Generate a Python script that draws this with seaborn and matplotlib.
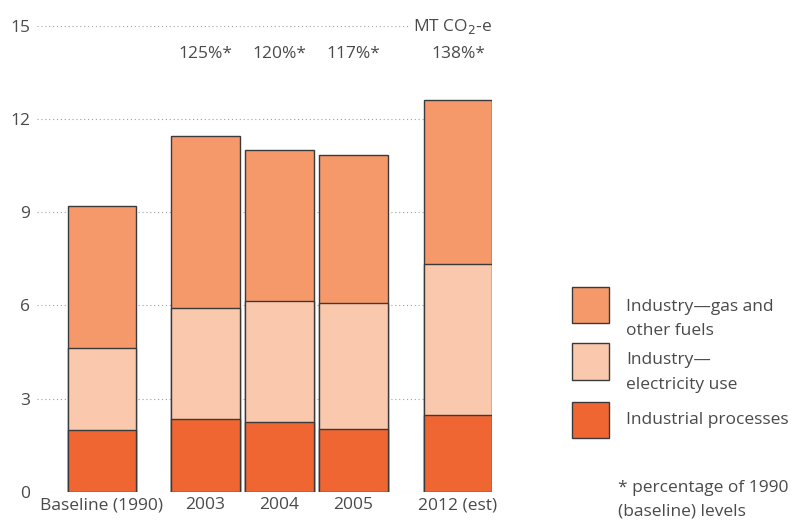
import matplotlib
matplotlib.use("Agg")
import matplotlib.pyplot as plt
from matplotlib.patches import Rectangle
import numpy as np
import pandas as pd
import seaborn as sns

# ---- data ----
categories = ["Baseline (1990)", "2003", "2004", "2005", "2012 (est)"]
industrial_processes = [2.00, 2.35, 2.25, 2.01, 2.46]
electricity_use = [2.63, 3.57, 3.89, 4.08, 4.87]
gas_other_fuels = [4.58, 5.55, 4.85, 4.77, 5.28]
pct_labels = ["", "125%*", "120%*", "117%*", "138%*"]
series_names = [["Industry\u2014gas and", "other fuels"], ["Industry\u2014", "electricity use"], ["Industrial processes"]]
y_ticks = [0, 3, 6, 9, 12, 15]
unit_label = "MT CO$_2$-e"
footnote = ["* percentage of 1990", "(baseline) levels"]

# ---- layout / style ----
bar_pos = [0.0, 1.4, 2.4, 3.4, 4.81]
c_gas = "#F5996B"
c_elec = "#FAC8AD"
c_proc = "#F06633"
edge = "#3a3a3a"
txt = "#4a4a4a"

sns.set_theme(style="white")
plt.rcParams["font.family"] = ["Open Sans", "DejaVu Sans"]

W, H = 812, 523
fig = plt.figure(figsize=(W / 100, H / 100), dpi=100)
ax_l, ax_r, ax_b, ax_t = 37, 492, 491.7, 26
ax = fig.add_axes([ax_l / W, 1 - ax_b / H, (ax_r - ax_l) / W, (ax_b - ax_t) / H])

proc = np.array(industrial_processes)
elec_top = proc + np.array(electricity_use)
total = elec_top + np.array(gas_other_fuels)

layers = [(total, c_gas), (elec_top, c_elec), (proc, c_proc)]
for vals, col in layers:
    df = pd.DataFrame({"x": bar_pos, "y": vals})
    sns.barplot(data=df, x="x", y="y", native_scale=True, width=0.92,
                color=col, saturation=1, edgecolor=edge, linewidth=1.0,
                ax=ax, zorder=3)

ax.set_xlim(-0.875, 5.27)
ax.set_ylim(0, 15)
ax.set_yticks(y_ticks)
ax.set_yticklabels([str(t) for t in y_ticks])
ax.set_xticks(bar_pos)
ax.set_xticklabels(categories)
ax.set_xlabel("")
ax.set_ylabel("")
for s in ax.spines.values():
    s.set_visible(False)
ax.tick_params(axis="both", length=0, labelsize=12.5, colors=txt)
ax.tick_params(axis="y", pad=5)
ax.tick_params(axis="x", pad=4)
ax.set_axisbelow(True)
ax.yaxis.grid(True, color="#a0a0a0", linestyle=(0, (1, 2.5)), linewidth=0.8, zorder=0)
ax.xaxis.grid(False)

# percentage labels
for xp, lab in zip(bar_pos, pct_labels):
    if lab:
        ax.text(xp, 14.1, lab, ha="center", va="center", fontsize=12.5, color=txt, zorder=5)

# unit label on the 15 line
ax.text(5.27, 15, unit_label, ha="right", va="center", fontsize=12.5, color=txt, zorder=5,
        bbox=dict(facecolor="white", edgecolor="none", pad=1.5))

# legend (manual)
leg_cols = [c_gas, c_elec, c_proc]
leg_tops = [286.7, 343.0, 401.7]
leg_text_y = [[307, 331], [360, 385], [420]]
for col, top, lines, ys in zip(leg_cols, leg_tops, series_names, leg_text_y):
    fig.patches.append(Rectangle((572 / W, 1 - (top + 36.6) / H), 37 / W, 36.6 / H,
                                 transform=fig.transFigure, facecolor=col,
                                 edgecolor=edge, linewidth=1.0))
    for line, yy in zip(lines, ys):
        fig.text(626 / W, 1 - yy / H, line, ha="left", va="center",
                 fontsize=12.5, color=txt)

for line, yy in zip(footnote, [488, 512]):
    fig.text(618 / W, 1 - yy / H, line, ha="left", va="center",
             fontsize=12.5, color=txt)

fig.savefig("out.png", dpi=100)
